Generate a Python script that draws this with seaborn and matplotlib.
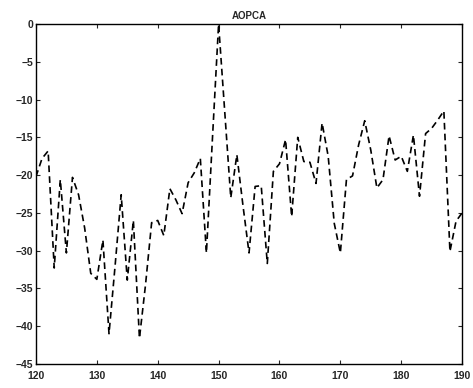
import pandas as pd
import matplotlib
matplotlib.use("Agg")
import matplotlib.pyplot as plt
import seaborn as sns

# данные кривой AOPCA
x_vals = list(range(120, 191))
aopca = [
    -20.2, -17.8, -16.8, -32.3, -20.6, -30.3, -20.3, -22.6, -27.0, -33.0,   # 120-129
    -33.8, -28.6, -41.0, -32.0, -22.6, -33.9, -26.0, -41.6, -34.5, -26.3,   # 130-139
    -26.0, -28.0, -21.8, -23.3, -25.1, -21.0, -19.7, -17.8, -30.3, -15.0,   # 140-149
    0.0, -11.5, -23.0, -17.3, -24.0, -30.3, -21.5, -21.4, -31.7, -19.5,     # 150-159
    -18.5, -15.3, -25.5, -15.0, -18.2, -18.3, -21.1, -13.1, -17.5, -26.4,   # 160-169
    -30.3, -20.6, -20.1, -16.0, -12.8, -16.7, -21.7, -20.6, -14.8, -18.0,   # 170-179
    -17.5, -19.5, -14.7, -22.8, -14.5, -13.8, -12.7, -11.5, -30.1, -26.1,   # 180-189
    -25.0,                                                                   # 190
]
x_ticks = list(range(120, 191, 10))
y_ticks = list(range(-45, 1, 5))

df = pd.DataFrame({"x": x_vals, "y": aopca})

sns.set_style("ticks")
plt.rcParams["font.family"] = ["Liberation Sans", "DejaVu Sans"]

fig = plt.figure(figsize=(4.73, 3.88), dpi=100)
ax = fig.add_axes([0.076, 0.062, 0.901, 0.876])

sns.lineplot(x="x", y="y", data=df, ax=ax, color="black", linewidth=1.2)
ax.lines[0].set_dashes((4, 2.5))

ax.set_xlim(120, 190)
ax.set_ylim(-45, 0)
ax.set_xticks(x_ticks)
ax.set_yticks(y_ticks)
ax.set_xlabel("")
ax.set_ylabel("")
ax.set_title("AOPCA", fontsize=7, fontweight="bold", pad=4)

for s in ax.spines.values():
    s.set_visible(True)
    s.set_linewidth(1.0)
    s.set_color("black")
ax.tick_params(direction="in", length=3, width=0.8, top=True, right=True,
               labelsize=7.5)
ax.tick_params(axis="x", pad=5)
ax.tick_params(axis="y", pad=2)
for lab in ax.get_xticklabels() + ax.get_yticklabels():
    lab.set_fontweight("bold")

fig.savefig("out.png", dpi=100)
